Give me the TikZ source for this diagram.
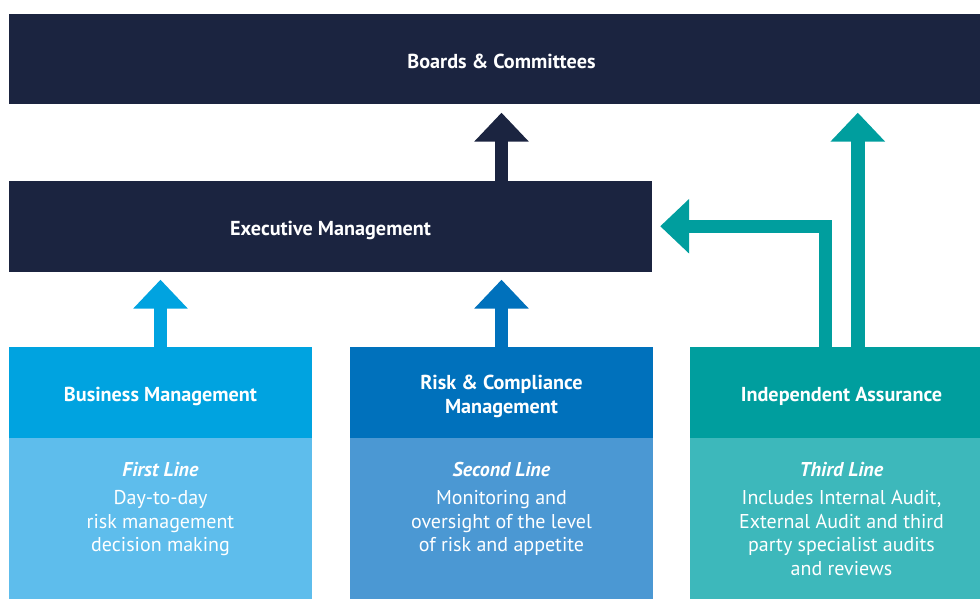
\documentclass[tikz,border=0pt]{standalone}
\usepackage{fontspec}
\setmainfont{PT Sans}
\usetikzlibrary{arrows.meta,positioning}
\definecolor{navy}{HTML}{1B2440}
\definecolor{bmdark}{HTML}{00A3E0}
\definecolor{bmlight}{HTML}{5EBDEC}
\definecolor{rcdark}{HTML}{0071BC}
\definecolor{rclight}{HTML}{4B98D3}
\definecolor{iadark}{HTML}{009E9E}
\definecolor{ialight}{HTML}{3DB8BB}
\begin{document}
\begin{tikzpicture}[x=1pt,y=-1pt,
  box/.style={rectangle, inner sep=0pt, minimum width=303pt, minimum height=90.5pt,
    text=white, align=center, text height=17.5pt, text depth=0pt,
    font=\bfseries\fontsize{20.2}{24}\selectfont},
  twoline/.style={text height=41.5pt},
  lowbox/.style={rectangle, inner sep=0pt, minimum width=303pt, minimum height=161.5pt},
  note/.style={inner sep=0pt, text=white, align=center, font=\fontsize{20}{23.5}\selectfont},
  blockarrow/.style={line width=13.4pt, line join=miter, shorten >=8pt,
    -{Triangle[width=53pt,length=29pt]}}]
\useasboundingbox (0,0) rectangle (980,599);
\clip (0,0) rectangle (980,599);
% top rows
\node[box, fill=navy, minimum width=985pt, minimum height=90pt] (boards) at (501.5,59.5) {Boards \& Committees};
\node[box, fill=navy, minimum width=643pt] (exec) at (330.5,226.25) {Executive Management};
% the three lines
\node[box, fill=bmdark] (bm-top) at (160.5,392.25) {Business Management};
\node[box, twoline, fill=rcdark] (rc-top) at (501.5,392.25) {Risk \& Compliance\\Management};
\node[box, fill=iadark] (ia-top) at (841.5,392.25) {Independent Assurance};
\node[lowbox, fill=bmlight, below=0pt of bm-top] (bm-low) {};
\node[lowbox, fill=rclight, below=0pt of rc-top] (rc-low) {};
\node[lowbox, fill=ialight, below=0pt of ia-top] (ia-low) {};
\node[note, below=24pt of bm-low.north] (bm-txt) {\textbf{\textit{First Line}}\\[5pt]Day-to-day\\risk management\\decision making};
\node[note, below=24pt of rc-low.north] (rc-txt) {\textbf{\textit{Second Line}}\\[5pt]Monitoring and\\oversight of the level\\of risk and appetite};
\node[note, below=24pt of ia-low.north] (ia-txt) {\textbf{\textit{Third Line}}\\[5pt]Includes Internal Audit,\\External Audit and third\\party specialist audits\\and reviews};
% arrows
\coordinate (ia-left) at ([xshift=-16.2pt]ia-top.north);
\coordinate (ia-right) at ([xshift=16.3pt]ia-top.north);
\draw[blockarrow, navy] (exec.north -| rc-top) -- (boards.south -| rc-top);
\draw[blockarrow, bmdark] (bm-top.north) -- (exec.south -| bm-top.north);
\draw[blockarrow, rcdark] (rc-top.north) -- (exec.south -| rc-top.north);
\draw[blockarrow, iadark] (ia-left) |- (exec.east);
\draw[blockarrow, iadark] (ia-right) -- (boards.south -| ia-right);
\end{tikzpicture}
\end{document}
